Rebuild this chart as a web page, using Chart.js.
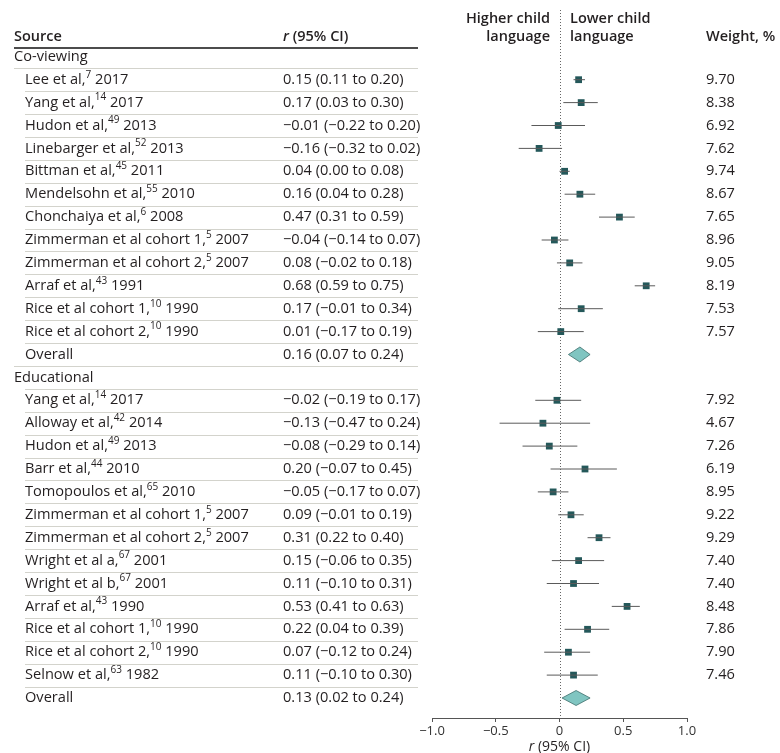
<!DOCTYPE html>
<html>
<head>
<meta charset="utf-8">
<script src="https://cdn.jsdelivr.net/npm/chart.js@4.4.1/dist/chart.umd.min.js"></script>
<style>
  html, body { margin: 0; padding: 0; background: #fff; }
  #wrap { width: 780px; height: 753px; position: relative; }
</style>
</head>
<body>
<div id="wrap"><canvas id="forest"></canvas></div>
<script>
// Co-viewing studies
const coNames = ['Lee et al,', 'Yang et al,', 'Hudon et al,', 'Linebarger et al,', 'Bittman et al,', 'Mendelsohn et al,',
  'Chonchaiya et al,', 'Zimmerman et al cohort 1,', 'Zimmerman et al cohort 2,', 'Arraf et al,', 'Rice et al cohort 1,', 'Rice et al cohort 2,'];
const coRefs = ['7', '14', '49', '52', '45', '55', '6', '5', '5', '43', '10', '10'];
const coYears = ['2017', '2017', '2013', '2013', '2011', '2010', '2008', '2007', '2007', '1991', '1990', '1990'];
const coR = [0.15, 0.17, -0.01, -0.16, 0.04, 0.16, 0.47, -0.04, 0.08, 0.68, 0.17, 0.01];
const coLo = [0.11, 0.03, -0.22, -0.32, 0.00, 0.04, 0.31, -0.14, -0.02, 0.59, -0.01, -0.17];
const coHi = [0.20, 0.30, 0.20, 0.02, 0.08, 0.28, 0.59, 0.07, 0.18, 0.75, 0.34, 0.19];
const coWeights = ['9.70', '8.38', '6.92', '7.62', '9.74', '8.67', '7.65', '8.96', '9.05', '8.19', '7.53', '7.57'];
const coOverall = [0.16, 0.07, 0.24];

// Educational studies
const edNames = ['Yang et al,', 'Alloway et al,', 'Hudon et al,', 'Barr et al,', 'Tomopoulos et al,', 'Zimmerman et al cohort 1,',
  'Zimmerman et al cohort 2,', 'Wright et al a,', 'Wright et al b,', 'Arraf et al,', 'Rice et al cohort 1,', 'Rice et al cohort 2,', 'Selnow et al,'];
const edRefs = ['14', '42', '49', '44', '65', '5', '5', '67', '67', '43', '10', '10', '63'];
const edYears = ['2017', '2014', '2013', '2010', '2010', '2007', '2007', '2001', '2001', '1990', '1990', '1990', '1982'];
const edR = [-0.02, -0.13, -0.08, 0.20, -0.05, 0.09, 0.31, 0.15, 0.11, 0.53, 0.22, 0.07, 0.11];
const edLo = [-0.19, -0.47, -0.29, -0.07, -0.17, -0.01, 0.22, -0.06, -0.10, 0.41, 0.04, -0.12, -0.10];
const edHi = [0.17, 0.24, 0.14, 0.45, 0.07, 0.19, 0.40, 0.35, 0.31, 0.63, 0.39, 0.24, 0.30];
const edWeights = ['7.92', '4.67', '7.26', '6.19', '8.95', '9.22', '9.29', '7.40', '7.40', '8.48', '7.86', '7.90', '7.46'];
const edOverall = [0.13, 0.02, 0.24];

const xTicks = [-1, -0.5, 0, 0.5, 1];

const FONT = '"Open Sans", "Noto Sans", sans-serif';
const INK = '#231f20';
// row 0 sits at ROW0 px, each row ROWH px lower; plot bottom (axis line) at AXIS_Y
const ROW0 = 56.8, ROWH = 22.9, TOP = 15, AXIS_Y = 718;

function num(v) { return (v < 0 ? '\u2212' : '') + Math.abs(v).toFixed(2); }
function ciText(r, lo, hi) { return num(r) + ' (' + num(lo) + ' to ' + num(hi) + ')'; }

// rows: group header, studies, overall
const rows = [];
const ciPoints = [];
const estPoints = [];
const diamonds = [];
let rowIdx = 0;
function addGroup(title, names, refs, years, r, lo, hi, w, overall) {
  rows.push({ type: 'group', y: rowIdx, text: title });
  rowIdx++;
  names.forEach((n, k) => {
    rows.push({ type: 'study', y: rowIdx, name: n, ref: refs[k], year: years[k], ci: ciText(r[k], lo[k], hi[k]), w: w[k] });
    ciPoints.push({ x: lo[k], y: rowIdx }, { x: hi[k], y: rowIdx }, { x: null, y: null });
    estPoints.push({ x: r[k], y: rowIdx });
    rowIdx++;
  });
  rows.push({ type: 'overall', y: rowIdx, ci: ciText(overall[0], overall[1], overall[2]) });
  diamonds.push({ y: rowIdx, est: overall[0], lo: overall[1], hi: overall[2] });
  rowIdx++;
}
addGroup('Co-viewing', coNames, coRefs, coYears, coR, coLo, coHi, coWeights, coOverall);
addGroup('Educational', edNames, edRefs, edYears, edR, edLo, edHi, edWeights, edOverall);

// draw text made of several runs (font changes, superscripts)
function runs(ctx, x, y, parts, align) {
  let total = 0;
  parts.forEach(p => { ctx.font = p.font; p.w = ctx.measureText(p.t).width; total += p.w; });
  let cx = align === 'right' ? x - total : align === 'center' ? x - total / 2 : x;
  ctx.textAlign = 'left';
  parts.forEach(p => { ctx.font = p.font; ctx.fillText(p.t, cx, y + (p.dy || 0)); cx += p.w; });
}

const tablePlugin = {
  id: 'table',
  beforeDatasetsDraw(chart) {
    const { ctx, scales: { x }, chartArea } = chart;
    const x0 = Math.round(x.getPixelForValue(0)) + 0.5;
    ctx.save();
    ctx.strokeStyle = '#666';
    ctx.lineWidth = 1;
    ctx.setLineDash([1, 2]);
    ctx.beginPath();
    ctx.moveTo(x0, 10);
    ctx.lineTo(x0, chartArea.bottom);
    ctx.stroke();
    ctx.restore();
  },
  afterDatasetsDraw(chart) {
    const { ctx, scales: { x, y } } = chart;
    ctx.save();
    // overall diamonds
    diamonds.forEach(d => {
      const py = y.getPixelForValue(d.y);
      ctx.beginPath();
      ctx.moveTo(x.getPixelForValue(d.lo), py);
      ctx.lineTo(x.getPixelForValue(d.est), py - 7.5);
      ctx.lineTo(x.getPixelForValue(d.hi), py);
      ctx.lineTo(x.getPixelForValue(d.est), py + 7.5);
      ctx.closePath();
      ctx.fillStyle = '#80c5c1';
      ctx.fill();
      ctx.strokeStyle = '#3d6e6c';
      ctx.lineWidth = 0.8;
      ctx.stroke();
    });

    ctx.fillStyle = INK;
    ctx.textBaseline = 'middle';
    const hdr = '600 14.5px ' + FONT;
    const hdrIt = 'italic 600 14.5px ' + FONT;
    const reg = '14.6px ' + FONT;
    const sup = '10px ' + FONT;

    // headers
    runs(ctx, 14, 37, [{ t: 'Source', font: hdr }]);
    runs(ctx, 283, 37, [{ t: 'r', font: hdrIt }, { t: ' (95% CI)', font: hdr }]);
    runs(ctx, 550, 19, [{ t: 'Higher child', font: hdr }], 'right');
    runs(ctx, 550, 37, [{ t: 'language', font: hdr }], 'right');
    runs(ctx, 570, 19, [{ t: 'Lower child', font: hdr }]);
    runs(ctx, 570, 37, [{ t: 'language', font: hdr }]);
    runs(ctx, 706, 37, [{ t: 'Weight, %', font: hdr }]);

    ctx.strokeStyle = '#111';
    ctx.lineWidth = 1.5;
    ctx.beginPath();
    ctx.moveTo(14, 48);
    ctx.lineTo(418, 48);
    ctx.stroke();

    rows.forEach((r, k) => {
      const py = y.getPixelForValue(r.y);
      ctx.fillStyle = INK;
      if (r.type === 'group') {
        runs(ctx, 14, py, [{ t: r.text, font: reg }]);
      } else if (r.type === 'study') {
        runs(ctx, 25, py, [{ t: r.name, font: reg }, { t: r.ref, font: sup, dy: -5 }, { t: ' ' + r.year, font: reg }]);
        runs(ctx, 283, py, [{ t: r.ci, font: reg }]);
        runs(ctx, 706, py, [{ t: r.w, font: reg }]);
      } else {
        runs(ctx, 25, py, [{ t: 'Overall', font: reg }]);
        runs(ctx, 283, py, [{ t: r.ci, font: reg }]);
      }
      // row separator
      if (k < rows.length - 1) {
        const ly = Math.round((py + y.getPixelForValue(rows[k + 1].y)) / 2) + 0.5;
        const startX = (r.type === 'overall' || (r.type === 'group' && k === 0)) ? 14 : 25;
        ctx.strokeStyle = '#d3d3cc';
        ctx.lineWidth = 1;
        ctx.beginPath();
        ctx.moveTo(startX, ly);
        ctx.lineTo(418, ly);
        ctx.stroke();
      }
    });

    // axis title
    ctx.fillStyle = INK;
    runs(ctx, x.getPixelForValue(0), 747, [{ t: 'r', font: 'italic 14px ' + FONT }, { t: ' (95% CI)', font: '14px ' + FONT }], 'center');
    ctx.restore();
  }
};

new Chart(document.getElementById('forest'), {
  type: 'scatter',
  data: {
    datasets: [
      {
        data: ciPoints,
        showLine: true,
        spanGaps: false,
        borderColor: '#5a5a5a',
        borderWidth: 1,
        pointRadius: 0
      },
      {
        data: estPoints,
        pointStyle: 'rect',
        pointRadius: 4.8,
        pointBackgroundColor: '#24585a',
        pointBorderWidth: 0
      }
    ]
  },
  options: {
    responsive: true,
    maintainAspectRatio: false,
    animation: false,
    devicePixelRatio: 1,
    events: [],
    layout: { padding: { left: 432, right: 93, top: TOP, bottom: 753 - AXIS_Y - 21 } },
    plugins: { legend: { display: false }, tooltip: { enabled: false } },
    scales: {
      x: {
        type: 'linear',
        min: -1,
        max: 1,
        afterBuildTicks: s => { s.ticks = xTicks.map(v => ({ value: v })); },
        afterFit: s => { s.height = 21; },
        grid: { display: true, drawOnChartArea: false, drawTicks: true, tickLength: 4, color: '#555' },
        border: { display: true, color: '#555', width: 1 },
        ticks: {
          padding: 1,
          color: '#333',
          font: { family: FONT, size: 13 },
          maxRotation: 0,
          callback: v => v === 0 ? '0' : (v < 0 ? '\u2212' : '') + Math.abs(v).toFixed(1)
        }
      },
      y: {
        type: 'linear',
        display: false,
        reverse: true,
        min: (TOP - ROW0) / ROWH,
        max: (AXIS_Y - ROW0) / ROWH
      }
    }
  },
  plugins: [tablePlugin]
});
</script>
</body>
</html>
